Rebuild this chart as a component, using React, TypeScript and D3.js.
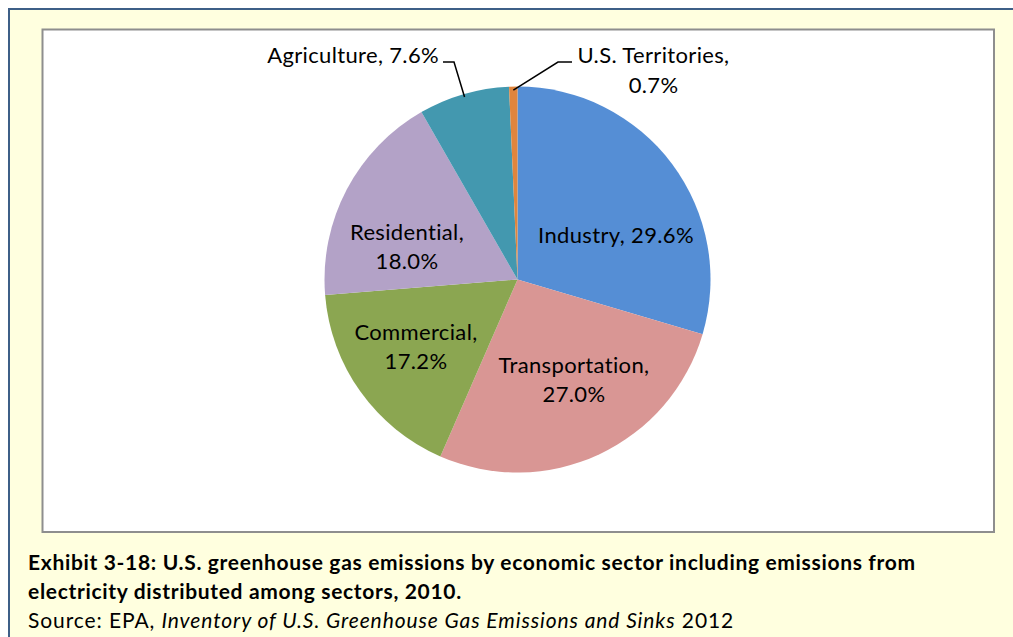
import React from "react";
import * as d3 from "d3";

const sectors = ["Industry", "Transportation", "Commercial", "Residential", "Agriculture", "U.S. Territories"];
const shares = [29.6, 27.0, 17.2, 18.0, 7.6, 0.7];
const colors = ["#558ED5", "#D99694", "#8BA651", "#B3A2C7", "#4398AF", "#E0853D"];
const captionLine1 = "Exhibit 3-18: U.S. greenhouse gas emissions by economic sector including emissions from";
const captionLine2 = "electricity distributed among sectors, 2010.";
const sourcePrefix = "Source: EPA, ";
const sourceTitle = "Inventory of U.S. Greenhouse Gas Emissions and Sinks";
const sourceSuffix = " 2012";

const W = 1013;
const H = 637;
const cx = 517.5;
const cy = 279.5;
const R = 193;
const FONT = "Lato, 'Open Sans', sans-serif";
const LABEL_SIZE = 22;
const LABEL_LS = 0.35;
const LINE_GAP = 29.5;

// inside labels: offset of label block center from pie center
const insideLabels: Record<string, { dx: number; dy: number; lines: number }> = {
  Industry: { dx: 98.5, dy: -43.5, lines: 1 },
  Transportation: { dx: 56.5, dy: 101, lines: 2 },
  Commercial: { dx: -101.5, dy: 68, lines: 2 },
  Residential: { dx: -110.5, dy: -32, lines: 2 },
};

export default function App() {
  const pie = d3.pie<number>().sort(null).value((d) => d)(shares);
  const arc = d3.arc<d3.PieArcDatum<number>>().innerRadius(0).outerRadius(R);
  const fmt = (v: number) => v.toFixed(1) + "%";

  const pointAt = (d: d3.PieArcDatum<number>, r: number) => {
    const a = (d.startAngle + d.endAngle) / 2;
    return [cx + r * Math.sin(a), cy - r * Math.cos(a)];
  };

  const agri = pie[4];
  const terr = pie[5];
  const agriEnd = pointAt(agri, R - 3);
  const terrEnd = pointAt(terr, R - 3.5);

  const labelProps = { fontSize: LABEL_SIZE, letterSpacing: LABEL_LS, fill: "#000" };

  return (
    <svg width={W} height={H} style={{ position: "absolute", left: 0, top: 0 }} fontFamily={FONT}>
      <rect x={0} y={0} width={W} height={H} fill="#ffffff" />
      <rect x={9} y={9} width={W + 20} height={H + 20} fill="#FFFFDF" stroke="#3E5F87" strokeWidth={2} />
      <rect x={42.5} y={29.5} width={951.5} height={502.5} fill="#ffffff" stroke="#8E8E8E" strokeWidth={2} />
      <g transform={`translate(${cx},${cy})`}>
        {pie.map((d, i) => (
          <path key={sectors[i]} d={arc(d) || ""} fill={colors[i]} />
        ))}
      </g>
      {pie.map((d, i) => {
        const name = sectors[i];
        const lab = insideLabels[name];
        if (!lab) return null;
        const x = cx + lab.dx;
        const yc = cy + lab.dy;
        if (lab.lines === 1) {
          return (
            <text key={name} x={x} y={yc + 7} textAnchor="middle" {...labelProps}>
              {`${name}, ${fmt(shares[i])}`}
            </text>
          );
        }
        return (
          <text key={name} x={x} textAnchor="middle" {...labelProps}>
            <tspan x={x} y={yc + 7 - LINE_GAP / 2}>{`${name},`}</tspan>
            <tspan x={x} y={yc + 7 + LINE_GAP / 2}>{fmt(shares[i])}</tspan>
          </text>
        );
      })}
      {/* Agriculture leader + label */}
      <polyline points={`443,62 454,62 ${agriEnd[0]},${agriEnd[1]}`} fill="none" stroke="#000" strokeWidth={1.5} />
      <text x={439} y={63} textAnchor="end" {...labelProps}>
        {`${sectors[4]}, ${fmt(shares[4])}`}
      </text>
      {/* Territories leader + label */}
      <polyline points={`572,62 558,62 ${terrEnd[0]},${terrEnd[1]}`} fill="none" stroke="#000" strokeWidth={1.5} />
      <text textAnchor="middle" {...labelProps}>
        <tspan x={653.5} y={63}>{`${sectors[5]},`}</tspan>
        <tspan x={653.5} y={93}>{fmt(shares[5])}</tspan>
      </text>
      {/* caption */}
      <text x={28} y={570} fontSize={21} letterSpacing={0.67} fontWeight="bold" fill="#000">{captionLine1}</text>
      <text x={28} y={599} fontSize={21} letterSpacing={0.67} fontWeight="bold" fill="#000">{captionLine2}</text>
      <text x={28} y={628} fontSize={21} letterSpacing={0.9} fill="#000">
        {sourcePrefix}
        <tspan fontStyle="italic">{sourceTitle}</tspan>
        {sourceSuffix}
      </text>
    </svg>
  );
}
